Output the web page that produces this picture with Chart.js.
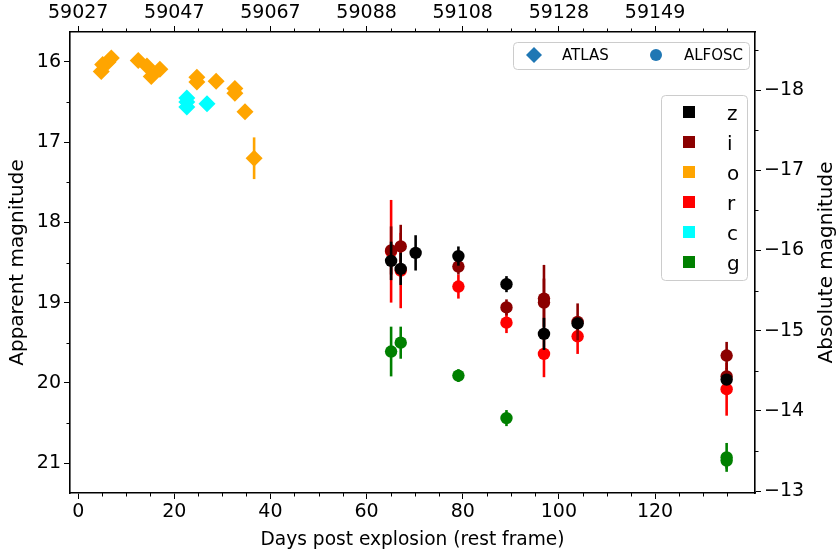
<!DOCTYPE html>
<html>
<head>
<meta charset="utf-8">
<script src="https://cdn.jsdelivr.net/npm/chart.js@4.4.1/dist/chart.umd.min.js"></script>
<style>
  html, body { margin: 0; padding: 0; background: #fff; }
  #wrap { width: 840px; height: 554px; }
</style>
</head>
<body>
<div id="wrap"><canvas id="lc" width="840" height="554"></canvas></div>
<script>
// Light curve: days since explosion vs apparent magnitude

// ATLAS photometry (diamonds)
const atlasODays = [4.8, 5.1, 6.2, 6.9, 12.5, 14.3, 15.2, 17.0, 24.7, 24.7, 28.7, 32.6, 32.6, 34.7, 36.6];
const atlasOMag  = [16.12, 16.03, 16.0, 15.95, 15.98, 16.05, 16.18, 16.09, 16.19, 16.25, 16.24, 16.33, 16.39, 16.62, 17.2];
const atlasOErr  = [0.03, 0.03, 0.03, 0.03, 0.03, 0.03, 0.03, 0.03, 0.03, 0.03, 0.03, 0.04, 0.04, 0.05, 0.26];

const atlasCDays = [22.6, 22.6, 22.6, 26.8];
const atlasCMag  = [16.45, 16.5, 16.56, 16.52];
const atlasCErr  = [0.03, 0.03, 0.03, 0.03];

// ALFOSC photometry (circles)
const zDays = [65.1, 67.1, 70.2, 79.1, 89.1, 96.9, 103.9, 134.9];
const zMag  = [18.48, 18.58, 18.38, 18.42, 18.77, 19.39, 19.26, 19.96];
const zErr  = [0.24, 0.2, 0.22, 0.12, 0.1, 0.2, 0.05, 0.05];

const iDays = [65.1, 67.1, 79.1, 89.1, 96.9, 96.9, 103.9, 134.9, 134.9];
const iMag  = [18.35, 18.3, 18.55, 19.06, 18.95, 19.0, 19.24, 19.66, 19.92];
const iErr  = [0.3, 0.27, 0.1, 0.1, 0.42, 0.3, 0.23, 0.17, 0.1];

const rDays = [65.1, 67.1, 79.1, 89.1, 96.9, 103.9, 134.9];
const rMag  = [18.36, 18.6, 18.8, 19.25, 19.64, 19.42, 20.08];
const rErr  = [0.64, 0.47, 0.15, 0.13, 0.29, 0.22, 0.33];

const gDays = [65.1, 67.1, 79.1, 89.1, 134.9, 134.9];
const gMag  = [19.61, 19.5, 19.91, 20.44, 20.93, 20.97];
const gErr  = [0.31, 0.2, 0.08, 0.1, 0.18, 0.1];

// tick labels
const dayTicks = [0, 20, 40, 60, 80, 100, 120];
const mjdLabels = ['59027', '59047', '59067', '59088', '59108', '59128', '59149'];
const appTicks = [16, 17, 18, 19, 20, 21];
const absTicks = [-18, -17, -16, -15, -14, -13];

// distance modulus linking the two y axes
const distMod = 34.35;

const X_MIN = -1.7, X_MAX = 140.8;
const Y_MIN = 15.626, Y_MAX = 21.374;

const FONT = 'DejaVu Sans';
const ALFOSC_BLUE = '#1f77b4';

const pts = (days, mags) => days.map((d, i) => ({ x: d, y: mags[i] }));

const series = (label, days, mags, errs, color, shape, order) => ({
  label,
  data: pts(days, mags),
  errors: errs,
  backgroundColor: color,
  borderColor: color,
  borderWidth: 0,
  pointStyle: shape,
  pointRadius: shape === 'rectRot' ? 8.5 : 6.2,
  order
});

// vertical error bars, drawn just before each dataset's markers
const errorBars = {
  id: 'errorBars',
  beforeDatasetDraw(chart, args) {
    const ds = chart.data.datasets[args.index];
    if (!ds.errors) return;
    const { ctx, chartArea: a } = chart;
    const ys = chart.scales.y;
    ctx.save();
    ctx.beginPath();
    ctx.rect(a.left, a.top, a.width, a.height);
    ctx.clip();
    ctx.strokeStyle = ds.backgroundColor;
    ctx.lineWidth = 2.6;
    args.meta.data.forEach((p, i) => {
      const e = ds.errors[i];
      if (!e) return;
      const v = ds.data[i].y;
      ctx.beginPath();
      ctx.moveTo(p.x, ys.getPixelForValue(v - e));
      ctx.lineTo(p.x, ys.getPixelForValue(v + e));
      ctx.stroke();
    });
    ctx.restore();
  }
};

// minor ticks, right axis title and both legends
const extras = {
  id: 'extras',
  afterDraw(chart) {
    const { ctx, chartArea: a, scales } = chart;
    ctx.save();
    ctx.strokeStyle = '#000';
    ctx.lineWidth = 1;
    const minorLen = 3.5;
    for (let v = 5; v < X_MAX; v += 5) {
      if (v % 20 === 0) continue;
      const px = Math.round(scales.x.getPixelForValue(v)) + 0.5;
      ctx.beginPath();
      ctx.moveTo(px, a.bottom); ctx.lineTo(px, a.bottom + minorLen);
      ctx.moveTo(px, a.top); ctx.lineTo(px, a.top - minorLen);
      ctx.stroke();
    }
    for (let v = 16.5; v < Y_MAX; v += 1) {
      const py = Math.round(scales.y.getPixelForValue(v)) + 0.5;
      ctx.beginPath();
      ctx.moveTo(a.left, py); ctx.lineTo(a.left - minorLen, py);
      ctx.stroke();
    }
    for (let v = -18.5; v < Y_MAX - distMod; v += 1) {
      const py = Math.round(scales.y2.getPixelForValue(v)) + 0.5;
      ctx.beginPath();
      ctx.moveTo(a.right, py); ctx.lineTo(a.right + minorLen, py);
      ctx.stroke();
    }

    // right axis title, reading bottom to top
    ctx.fillStyle = '#000';
    ctx.font = '20px ' + FONT;
    ctx.textAlign = 'center';
    ctx.textBaseline = 'middle';
    ctx.translate(827, (a.top + a.bottom) / 2);
    ctx.rotate(-Math.PI / 2);
    ctx.fillText('Absolute magnitude', 0, 0);
    ctx.restore();

    const box = (x, y, w, h) => {
      ctx.beginPath();
      ctx.roundRect(x, y, w, h, 4);
      ctx.fillStyle = 'rgba(255,255,255,0.8)';
      ctx.fill();
      ctx.strokeStyle = '#cccccc';
      ctx.lineWidth = 1;
      ctx.stroke();
    };

    // instrument legend
    ctx.save();
    box(513.5, 42.5, 236, 27);
    ctx.fillStyle = ALFOSC_BLUE;
    ctx.beginPath();
    ctx.moveTo(534, 47); ctx.lineTo(542, 55); ctx.lineTo(534, 63); ctx.lineTo(526, 55);
    ctx.closePath(); ctx.fill();
    ctx.beginPath();
    ctx.arc(656, 55, 6, 0, Math.PI * 2); ctx.fill();
    ctx.fillStyle = '#000';
    ctx.font = '15px ' + FONT;
    ctx.textAlign = 'left';
    ctx.textBaseline = 'middle';
    ctx.fillText('ATLAS', 562, 56);
    ctx.fillText('ALFOSC', 684, 56);
    ctx.restore();

    // filter legend
    const filters = [['z', '#000000'], ['i', '#8b0000'], ['o', '#ffa500'], ['r', '#ff0000'], ['c', '#00ffff'], ['g', '#008000']];
    ctx.save();
    box(661.5, 95.5, 86, 185);
    ctx.font = '20px ' + FONT;
    ctx.textAlign = 'left';
    ctx.textBaseline = 'alphabetic';
    filters.forEach(([name, col], k) => {
      const cy = 112 + 30 * k;
      ctx.fillStyle = col;
      ctx.fillRect(683, cy - 6, 12, 12);
      ctx.fillStyle = '#000';
      ctx.fillText(name, 727, cy + 7.5);
    });
    ctx.restore();
  }
};

const tickFont = { family: FONT, size: 19 };
const noGrid = { drawOnChartArea: false, drawTicks: true, tickLength: 6, tickColor: '#000', tickWidth: 1 };
const frame = { color: '#000', width: 1.6 };

new Chart(document.getElementById('lc'), {
  type: 'scatter',
  data: {
    datasets: [
      series('g', gDays, gMag, gErr, '#008000', 'circle', 1),
      series('z', zDays, zMag, zErr, '#000000', 'circle', 2),
      series('i', iDays, iMag, iErr, '#8b0000', 'circle', 3),
      series('r', rDays, rMag, rErr, '#ff0000', 'circle', 4),
      series('c', atlasCDays, atlasCMag, atlasCErr, '#00ffff', 'rectRot', 5),
      series('o', atlasODays, atlasOMag, atlasOErr, '#ffa500', 'rectRot', 6)
    ]
  },
  options: {
    responsive: false,
    animation: false,
    layout: { padding: 0 },
    plugins: { legend: { display: false }, tooltip: { enabled: false } },
    scales: {
      x: {
        type: 'linear', position: 'bottom', min: X_MIN, max: X_MAX,
        afterBuildTicks: s => { s.ticks = dayTicks.map(v => ({ value: v })); },
        afterFit: s => { s.height = 61; },
        ticks: { color: '#000', font: tickFont, padding: 2, maxRotation: 0 },
        grid: noGrid, border: frame,
        title: { display: true, text: 'Days post explosion (rest frame)', color: '#000',
                 font: { family: FONT, size: 18.6 }, padding: { top: 0, bottom: 3 } }
      },
      x2: {
        type: 'linear', axis: 'x', position: 'top', min: X_MIN, max: X_MAX,
        afterBuildTicks: s => { s.ticks = dayTicks.map(v => ({ value: v })); },
        afterFit: s => { s.height = 32; },
        ticks: { color: '#000', font: tickFont, padding: 2, maxRotation: 0,
                 callback: v => mjdLabels[dayTicks.indexOf(v)] },
        grid: noGrid, border: frame
      },
      y: {
        type: 'linear', position: 'left', reverse: true, min: Y_MIN, max: Y_MAX,
        afterBuildTicks: s => { s.ticks = appTicks.map(v => ({ value: v })); },
        afterFit: s => { s.width = 70; },
        ticks: { color: '#000', font: tickFont, padding: 3 },
        grid: noGrid, border: frame,
        title: { display: true, text: 'Apparent magnitude', color: '#000',
                 font: { family: FONT, size: 20 }, padding: { top: 6, bottom: 0 } }
      },
      y2: {
        type: 'linear', axis: 'y', position: 'right', reverse: true,
        min: Y_MIN - distMod, max: Y_MAX - distMod,
        afterBuildTicks: s => { s.ticks = absTicks.map(v => ({ value: v })); },
        afterFit: s => { s.width = 85; },
        ticks: { color: '#000', font: tickFont, padding: 3,
                 callback: v => (v < 0 ? '\u2212' + Math.abs(v) : String(v)) },
        grid: noGrid, border: frame
      }
    }
  },
  plugins: [errorBars, extras]
});
</script>
</body>
</html>
